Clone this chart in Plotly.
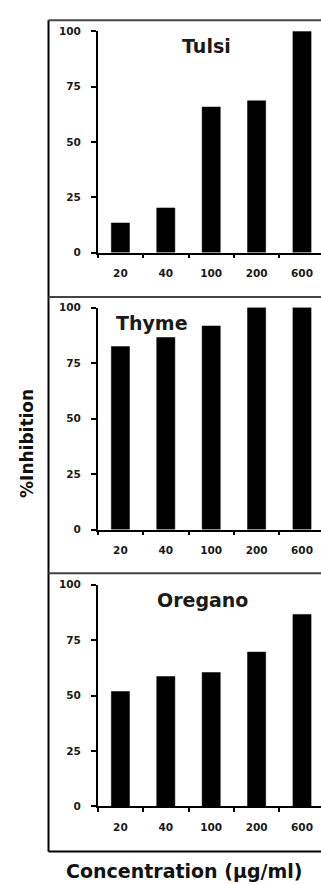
import plotly.graph_objects as go

concentrations = ["20", "40", "100", "200", "600"]
tulsi = [13.4, 20.2, 65.8, 68.6, 100]
thyme = [82.4, 86.5, 91.7, 100, 100]
oregano = [51.8, 58.6, 60.4, 69.6, 86.6]
panel_names = ["Tulsi", "Thyme", "Oregano"]
y_ticks = [0, 25, 50, 75, 100]

W, H = 321, 885
series = [tulsi, thyme, oregano]

# pixel geometry (top, bottom of plot area in px)
panel_px = [(25.7, 250.0), (305.7, 530.7), (586.7, 811.3)]
x_left_px = 97.7
band_px = 45.4
x_end = -0.5 + (W - x_left_px) / band_px

title_pos = [(1.9, 93.4), (0.69, 92.9), (1.8, 93.3)]

fig = go.Figure()
tick_font = dict(family="DejaVu Sans", size=10.5, color="#1a1a1a", weight="bold")

for i, vals in enumerate(series):
    n = i + 1
    xa = "x" if n == 1 else f"x{n}"
    ya = "y" if n == 1 else f"y{n}"
    fig.add_trace(go.Bar(x=concentrations, y=vals, xaxis=xa, yaxis=ya,
                         marker=dict(color="black", line=dict(color="black", width=0.5)),
                         width=0.4, showlegend=False))
    top, bot = panel_px[i]
    dom_y = [(H - bot) / H, (H - top) / H]
    xkey = "xaxis" if n == 1 else f"xaxis{n}"
    ykey = "yaxis" if n == 1 else f"yaxis{n}"
    fig.update_layout({
        xkey: dict(domain=[x_left_px / W, 1], anchor=ya, type="category",
                   range=[-0.5, x_end], showline=True, linecolor="black", linewidth=1.5,
                   ticks="outside", ticklen=4, tickwidth=1.5, tickcolor="black",
                   tickson="boundaries", showgrid=False, zeroline=False,
                   tickfont=tick_font, ticklabelstandoff=10, fixedrange=True),
        ykey: dict(domain=dom_y, anchor=xa, range=[0, 100], tickvals=y_ticks,
                   showline=True, linecolor="black", linewidth=1.5,
                   ticks="outside", ticklen=5, tickwidth=1.5, tickcolor="black",
                   showgrid=False, zeroline=False, tickfont=tick_font,
                   ticklabelstandoff=8, fixedrange=True),
    })
    tx, ty = title_pos[i]
    fig.add_annotation(x=tx, y=ty, xref=xa, yref=ya, text=panel_names[i], showarrow=False,
                       font=dict(family="DejaVu Sans", size=19, color="#1a1a1a", weight="bold"),
                       xanchor="center", yanchor="middle")

# frame lines
def px_line(x0, y0, x1, y1, color, width):
    fig.add_shape(type="line", xref="paper", yref="paper",
                  x0=x0 / W, x1=x1 / W, y0=(H - y0) / H, y1=(H - y1) / H,
                  line=dict(color=color, width=width))

px_line(48.5, 14.5, 48.5, 857, "black", 2)
px_line(48.5, 14.5, W, 14.5, "#444444", 2)
px_line(48.5, 295, W, 295, "#444444", 2)
px_line(48.5, 575, W, 575, "#444444", 2)
px_line(48.5, 857, W, 857, "black", 2)

fig.add_annotation(x=27 / W, y=(H - 444) / H, xref="paper", yref="paper", text="%Inhibition",
                   textangle=-90, showarrow=False, xanchor="center", yanchor="middle",
                   font=dict(family="DejaVu Sans", size=17, color="#111111", weight="bold"))
fig.add_annotation(x=184 / W, y=(H - 877) / H, xref="paper", yref="paper",
                   text="Concentration (µg/ml)", showarrow=False, xanchor="center", yanchor="middle",
                   font=dict(family="DejaVu Sans", size=19, color="#111111", weight="bold"))

fig.update_layout(width=W, height=H, margin=dict(l=0, r=0, t=0, b=0),
                  paper_bgcolor="white", plot_bgcolor="white", bargap=0.6)

fig.write_html("out.html", config={"displayModeBar": False})
